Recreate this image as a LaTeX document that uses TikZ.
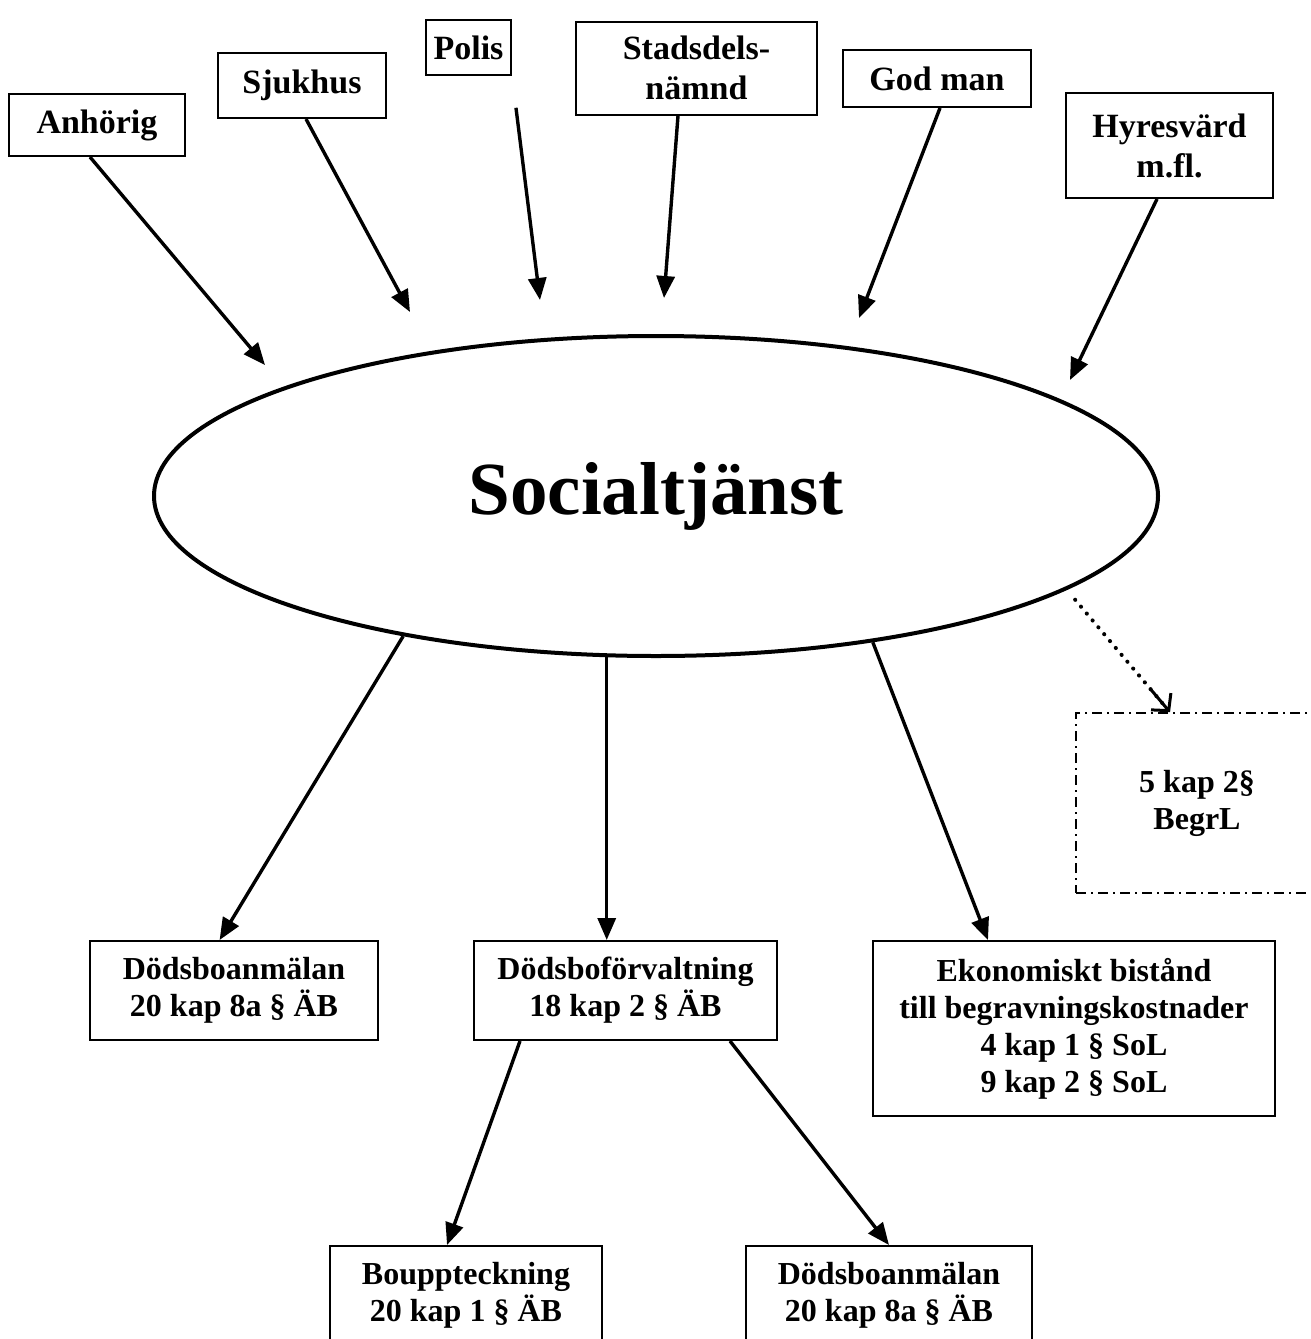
\documentclass[tikz,border=0pt]{standalone}
\usepackage{fontspec}
\setmainfont{Liberation Serif}
\usetikzlibrary{arrows.meta, shapes.geometric}

\begin{document}
\begin{tikzpicture}[
  x=0.5pt, y=-0.5pt,
  flow/.style={line width=1.7pt, draw=black, -{Triangle[length=11pt, width=9pt]}},
  maybe/.style={line width=2pt, draw=black, line cap=round, dash pattern=on 0.1pt off 4.4pt,
    postaction={draw, solid, line width=1.5pt, line cap=butt, shorten <=58pt, -{Straight Barb[length=6pt, width=13pt]}}},
  reporter/.style={draw, line width=1pt, fill=white, inner sep=2pt, align=center, font=\bfseries\fontsize{17}{20}\selectfont},
  lawbox/.style={reporter, font=\bfseries\fontsize{16}{18.5}\selectfont}
  ]

  \useasboundingbox (0,0) rectangle (1311,1339);

  % Socialtjanst
  \node[draw, ellipse, line width=2pt, minimum width=502pt, minimum height=160pt, inner sep=0pt,
        font=\bfseries\fontsize{37.5}{45}\selectfont] (soc) at (656,496) {Socialtjänst};

  % Who reports
  \node[reporter, minimum width=88pt, minimum height=31pt] (anhorig) at (97,125) {Anhörig};
  \node[reporter, minimum width=84pt, minimum height=32.5pt] (sjukhus) at (302,85.5) {Sjukhus};
  \node[reporter, minimum width=42.5pt, minimum height=27.5pt] (polis) at (468.5,47.5) {Polis};
  \node[reporter, minimum width=120.5pt, minimum height=46.5pt] (stadsdel) at (696.5,68.3) {Stadsdels-\\nämnd};
  \node[reporter, minimum width=94pt, minimum height=28.5pt] (godman) at (937,78.5) {God man};
  \node[reporter, minimum width=103.5pt, minimum height=52.5pt] (hyresvard) at (1169.5,145.5) {Hyresvärd\\m.fl.};

  % Arrow ends above the ellipse
  \coordinate (a1) at (265,365);
  \coordinate (a2) at (410,312);
  \coordinate (a3) at (540,300);
  \coordinate (a4) at (664,298);
  \coordinate (a5) at (859,318);
  \coordinate (a6) at (1070,380);

  % What follows
  \node[lawbox, minimum width=144pt, minimum height=49.5pt] (anmalan) at (234,990.5) {Dödsboanmälan\\20 kap 8a § ÄB};
  \node[lawbox, minimum width=151.5pt, minimum height=49.5pt] (forvaltning) at (625.5,990.5) {Dödsboförvaltning\\18 kap 2 § ÄB};
  \node[lawbox, minimum width=201pt, minimum height=87.5pt] (bistand) at (1074,1028.5) {Ekonomiskt bistånd\\till begravningskostnader\\4 kap 1 § SoL\\9 kap 2 § SoL};
  \node[lawbox, minimum width=136pt, minimum height=49.5pt] (bouppteckning) at (466,1295.5) {Bouppteckning\\20 kap 1 § ÄB};
  \node[lawbox, minimum width=143pt, minimum height=49.5pt] (anmalan2) at (889,1295.5) {Dödsboanmälan\\20 kap 8a § ÄB};
  \node[lawbox, line width=0.8pt, dash pattern=on 5pt off 2.5pt on 1pt off 2.5pt,
        minimum width=121pt, minimum height=90pt] (begrl) at (1197,803) {5 kap 2§\\BegrL};

  % Reports in
  \draw[flow] ([xshift=-3.5pt]anhorig.south) -- (a1);
  \draw[flow] ([xshift=2pt]sjukhus.south) -- (a2);
  \draw[flow, shorten <=16pt] (polis.south east) -- (a3);
  \draw[flow] ([xshift=-9.25pt]stadsdel.south) -- (a4);
  \draw[flow] ([xshift=1.5pt]godman.south) -- (a5);
  \draw[flow] ([xshift=-6.25pt]hyresvard.south) -- (a6);

  % Out of Socialtjanst
  \draw[flow] (soc.209) -- ([xshift=-7.2pt]anmalan.north);
  \draw[flow] (soc.253) -- (soc.253 |- forvaltning.north);
  \draw[flow] (soc.326) -- ([xshift=-43pt]bistand.north);
  \draw[maybe] ([xshift=16pt]soc.345) -- ([xshift=-13.5pt]begrl.north);
  \draw[flow] ([xshift=-52.75pt]forvaltning.south) -- ([xshift=-9.5pt]bouppteckning.north);
  \draw[flow] ([xshift=52.25pt]forvaltning.south) -- (anmalan2.north);

\end{tikzpicture}
\end{document}
